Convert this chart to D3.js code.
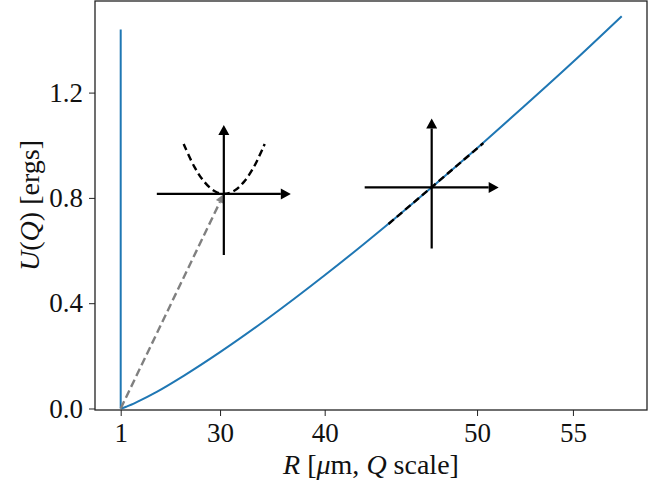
<!DOCTYPE html>
<html>
<head>
<meta charset="utf-8">
<script src="https://cdn.jsdelivr.net/npm/d3@7"></script>
<style>
  body { margin: 0; background: #fff; }
  svg { display: block; }
</style>
</head>
<body>
<svg></svg>
<script>
var width = 669
var height = 487
var margin = ({top: 1, right: 22, bottom: 77, left: 95})

// tick labels
var xTicks = [1, 30, 40, 50, 55]
var yTicks = [0.0, 0.4, 0.8, 1.2]

// blue curve U(Q) against R (Q scale)
var curveR = [1, 5, 10, 15, 20, 25, 30, 35, 40, 42.5, 45, 47.5, 50, 52.5, 55, 57.3]
var curveU = [0, 0.001, 0.008, 0.027, 0.063, 0.124, 0.214, 0.339, 0.506, 0.607, 0.721, 0.848, 0.989, 1.145, 1.316, 1.49]
// spike at R = 1
var spikeR = [1, 1]
var spikeU = [1.44, 0]

// annotation: crosshair centres
var crossR = [30.45, 47.35]
var crossU = [0.815, 0.840]
// dashed parabola round the first crosshair
var paraR = [25.0, 26.6, 28.0, 29.3, 30.45, 31.6, 32.7, 33.75, 34.8]
var paraU = [1.005, 0.919, 0.861, 0.826, 0.815, 0.826, 0.861, 0.919, 1.005]
// dashed tangent on the second crosshair
var tanR = [44.6, 50.35]
var tanU = [0.701, 1.008]
// grey arrow from the origin to the first crosshair
var grayR = [1, 30.45]
var grayU = [0, 0.815]

var x = d3.scalePow().exponent(2.5)
    .domain([-17.46, 58.44])
    .range([margin.left, width - margin.right])
var y = d3.scaleLinear()
    .domain([-0.0057, 1.548])
    .range([height - margin.bottom, margin.top])

var font = "'Liberation Serif', 'DejaVu Serif', serif"

const svg = d3.select("svg")
    .attr("width", width)
    .attr("height", height)
    .attr("viewBox", [0, 0, width, height])

var xAxis = g => g
    .attr("transform", `translate(0,${height - margin.bottom})`)
    .call(d3.axisBottom(x).tickValues(xTicks).tickFormat(d3.format("d"))
        .tickSize(6).tickPadding(7).tickSizeOuter(0))
    .call(g => g.select(".domain").remove())
var yAxis = g => g
    .attr("transform", `translate(${margin.left},0)`)
    .call(d3.axisLeft(y).tickValues(yTicks).tickFormat(d3.format(".1f"))
        .tickSize(6).tickPadding(6).tickSizeOuter(0))
    .call(g => g.select(".domain").remove())

svg.append("g").call(xAxis)
svg.append("g").call(yAxis)
svg.selectAll(".tick line").attr("stroke", "#222").attr("stroke-width", 1)
svg.selectAll(".tick text")
    .attr("fill", "#111")
    .style("font-family", font)
    .style("font-size", "27px")

var line = d3.line()
    .x(d => x(d[0]))
    .y(d => y(d[1]))

// blue data
svg.append("path")
    .datum(d3.zip(spikeR, spikeU))
    .attr("fill", "none")
    .attr("stroke", "#1f77b4")
    .attr("stroke-width", 2)
    .attr("d", line)
svg.append("path")
    .datum(d3.zip(curveR, curveU))
    .attr("fill", "none")
    .attr("stroke", "#1f77b4")
    .attr("stroke-width", 2)
    .attr("stroke-linejoin", "round")
    .attr("d", line.curve(d3.curveMonotoneX))
line.curve(d3.curveLinear)

// grey dashed arrow
var g0 = [x(grayR[0]), y(grayU[0])], g1 = [x(grayR[1]), y(grayU[1])]
var ang = Math.atan2(g1[1] - g0[1], g1[0] - g0[0])
var headL = 9, headW = 4.5
var gb = [g1[0] - headL * Math.cos(ang), g1[1] - headL * Math.sin(ang)]
svg.append("path")
    .attr("fill", "none")
    .attr("stroke", "#808080")
    .attr("stroke-width", 2.4)
    .attr("stroke-dasharray", "8,4")
    .attr("d", d3.line()([g0, gb]))
svg.append("path")
    .attr("fill", "#808080")
    .attr("d", d3.line()([
        g1,
        [gb[0] + headW * Math.sin(ang), gb[1] - headW * Math.cos(ang)],
        [gb[0] - headW * Math.sin(ang), gb[1] + headW * Math.cos(ang)]
    ]) + "Z")

// dashed parabola and tangent
svg.append("path")
    .datum(d3.zip(paraR, paraU))
    .attr("fill", "none")
    .attr("stroke", "#000")
    .attr("stroke-width", 2.4)
    .attr("stroke-dasharray", "7,4")
    .attr("d", line.curve(d3.curveCatmullRom))
line.curve(d3.curveLinear)
svg.append("path")
    .datum(d3.zip(tanR, tanU))
    .attr("fill", "none")
    .attr("stroke", "#000")
    .attr("stroke-width", 2.4)
    .attr("stroke-dasharray", "7,4")
    .attr("d", line)

// crosshairs with arrowheads
var arm = {left: 67, right: 67, up: 69, down: 61}
var ah = {len: 10, half: 5.5}
d3.zip(crossR, crossU).forEach(function(c) {
    var cx = x(c[0]), cy = y(c[1])
    var g = svg.append("g")
    g.append("path")
        .attr("stroke", "#000")
        .attr("stroke-width", 2.2)
        .attr("fill", "none")
        .attr("d", `M${cx - arm.left},${cy}H${cx + arm.right - ah.len}` +
                   `M${cx},${cy + arm.down}V${cy - arm.up + ah.len}`)
    g.append("path")
        .attr("fill", "#000")
        .attr("d", `M${cx + arm.right},${cy}L${cx + arm.right - ah.len},${cy - ah.half}L${cx + arm.right - ah.len},${cy + ah.half}Z` +
                   `M${cx},${cy - arm.up}L${cx - ah.half},${cy - arm.up + ah.len}L${cx + ah.half},${cy - arm.up + ah.len}Z`)
})

// frame
svg.append("rect")
    .attr("x", margin.left)
    .attr("y", margin.top)
    .attr("width", width - margin.left - margin.right)
    .attr("height", height - margin.top - margin.bottom)
    .attr("fill", "none")
    .attr("stroke", "#222")
    .attr("stroke-width", 1.3)

// axis labels
var xl = svg.append("text")
    .attr("x", (margin.left + width - margin.right) / 2)
    .attr("y", 474)
    .attr("text-anchor", "middle")
    .style("font-family", font)
    .style("font-size", "28px")
    .attr("fill", "#111")
xl.append("tspan").style("font-style", "italic").text("R")
xl.append("tspan").text(" [")
xl.append("tspan").style("font-style", "italic").text("\u03bc")
xl.append("tspan").text("m,  ")
xl.append("tspan").style("font-style", "italic").text("Q")
xl.append("tspan").text(" scale]")

var yl = svg.append("text")
    .attr("transform", `translate(39,${(margin.top + height - margin.bottom) / 2}) rotate(-90)`)
    .attr("text-anchor", "middle")
    .style("font-family", font)
    .style("font-size", "28px")
    .attr("fill", "#111")
yl.append("tspan").style("font-style", "italic").text("U")
yl.append("tspan").text("(")
yl.append("tspan").style("font-style", "italic").text("Q")
yl.append("tspan").text(")  [ergs]")
</script>
</body>
</html>
